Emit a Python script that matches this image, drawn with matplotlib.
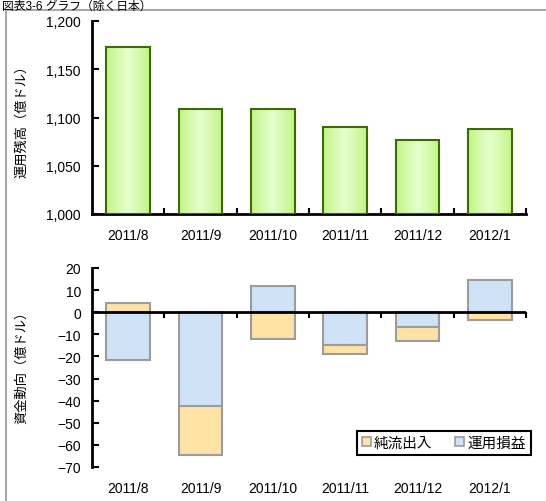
import matplotlib
matplotlib.use("Agg")
import matplotlib.pyplot as plt
import numpy as np
from matplotlib.patches import Patch, Rectangle
from matplotlib.colors import LinearSegmentedColormap

plt.rcParams['font.family'] = ['Liberation Sans', 'Noto Sans CJK JP', 'DejaVu Sans']

# data
months = ['2011/8', '2011/9', '2011/10', '2011/11', '2011/12', '2012/1']
balance = [1173, 1109, 1109, 1090, 1077, 1088]          # 運用残高
net_flow = [4.3, -22.4, -12.1, -3.7, -6.4, -3.6]         # 純流出入
inv_gain = [-21.5, -42.2, 11.8, -15.0, -6.5, 14.4]       # 運用損益

title = '図表3-6 グラフ（除く日本）'
ylabel_top = '運用残高（億ドル）'
ylabel_bot = '資金動向（億ドル）'

orange = '#FFE2A6'
blue = '#CFE2F6'
gray_edge = '#9C9C9C'

fig = plt.figure(figsize=(5.46, 5.02), dpi=100)

# outer frame + title
fig.add_artist(Rectangle((6 / 546, -0.05), 1.2, 1 - 11 / 502 + 0.05, transform=fig.transFigure,
                         fill=False, edgecolor='#A8A8A8', lw=1.5))
fig.text(0.004, 1 - 1 / 502, title, fontsize=8.5, va='top', ha='left')

x = np.arange(len(months))
bw = 0.6

# ---------------- top chart ----------------
ax1 = fig.add_axes([92 / 546, 1 - 215 / 502, (526 - 92) / 546, (215 - 22) / 502])
bars = ax1.bar(x, [b - 1000 for b in balance], bottom=1000, width=bw,
               color='#D8FCB4', edgecolor='#3E6A06', linewidth=1.5, zorder=2)

# horizontal gradient fill inside each bar
cmap = LinearSegmentedColormap.from_list('g', ['#C2F586', '#E6FFCF', '#C2F586'])
grad = np.linspace(0, 1, 64).reshape(1, -1)
for b in bars:
    bx, by = b.get_x(), b.get_y()
    im = ax1.imshow(grad, cmap=cmap, extent=[bx, bx + b.get_width(), by, by + b.get_height()],
                    aspect='auto', zorder=2.5, interpolation='bicubic')
    im.set_clip_path(b)
    b.set_facecolor('none')
    b.set_zorder(3)
ax1.set_xlim(-0.5, 5.5)
ax1.set_ylim(1000, 1200)

ax1.set_yticks(np.arange(1000, 1201, 50))
ax1.set_yticklabels([f'{v:,}' for v in range(1000, 1201, 50)])
ax1.set_xticks(x)
ax1.set_xticklabels(months)
ax1.set_xticks(np.arange(0.5, 6, 1), minor=True)
ax1.tick_params(axis='x', which='major', length=0, pad=10, labelsize=10)
ax1.tick_params(axis='x', which='minor', direction='in', length=4, width=1.5)
ax1.tick_params(axis='y', direction='in', length=5, width=1.5, labelsize=10, pad=8)
for s in ['top', 'right']:
    ax1.spines[s].set_visible(False)
for s in ['left', 'bottom']:
    ax1.spines[s].set_linewidth(2)

# ---------------- bottom chart ----------------
ax2 = fig.add_axes([92 / 546, 1 - 468 / 502, (526 - 92) / 546, (468 - 269) / 502])
ymin, ymax = -70, 20

# stack: 運用損益 nearest zero, 純流出入 outside (same sign) or on other side
flow_bottom = []
for nf, ig in zip(net_flow, inv_gain):
    flow_bottom.append(ig if np.sign(nf) == np.sign(ig) else 0)

ax2.bar(x, inv_gain, width=bw, color=blue, edgecolor=gray_edge, linewidth=1.5, zorder=2)
ax2.bar(x, net_flow, bottom=flow_bottom, width=bw, color=orange, edgecolor=gray_edge,
        linewidth=1.5, zorder=2)
ax2.set_xlim(-0.5, 5.5)
ax2.set_ylim(ymin, ymax)
ax2.set_yticks(np.arange(-70, 21, 10))
ax2.set_xticks(x)
ax2.set_xticklabels(months)
ax2.tick_params(axis='x', length=0, pad=10, labelsize=10)
ax2.tick_params(axis='y', direction='in', length=5, width=1.5, labelsize=10, pad=8)
for s in ['top', 'right', 'bottom']:
    ax2.spines[s].set_visible(False)
ax2.spines['left'].set_linewidth(2)

# zero axis line with category boundary ticks
sec = ax2.secondary_xaxis((0 - ymin) / (ymax - ymin))
sec.set_xticks(np.arange(0.5, 6, 1))
sec.set_xticklabels([])
sec.tick_params(direction='in', length=4, width=1.5)
sec.spines['bottom'].set_linewidth(2)
ax2.axhline(0, color='black', lw=2, zorder=4)

# labels
fig.text(22 / 546, 1 - 118 / 502, ylabel_top, rotation=90, fontsize=9.5, ha='center', va='center')
fig.text(22 / 546, 1 - 364 / 502, ylabel_bot, rotation=90, fontsize=9.5, ha='center', va='center')

handles = [Patch(facecolor=orange, edgecolor=gray_edge, lw=1.2, label='純流出入'),
           Patch(facecolor=blue, edgecolor=gray_edge, lw=1.2, label='運用損益')]
leg = fig.legend(handles=handles, ncol=2, loc='lower right',
                 bbox_to_anchor=(538 / 546, 1 - 463 / 502), fontsize=10.5,
                 handlelength=0.6, handleheight=0.6, handletextpad=0.2,
                 columnspacing=1.6, borderpad=0.35, fancybox=False, framealpha=1)
leg.get_frame().set_edgecolor('black')
leg.get_frame().set_linewidth(1.5)

fig.savefig('out.png', dpi=100)
